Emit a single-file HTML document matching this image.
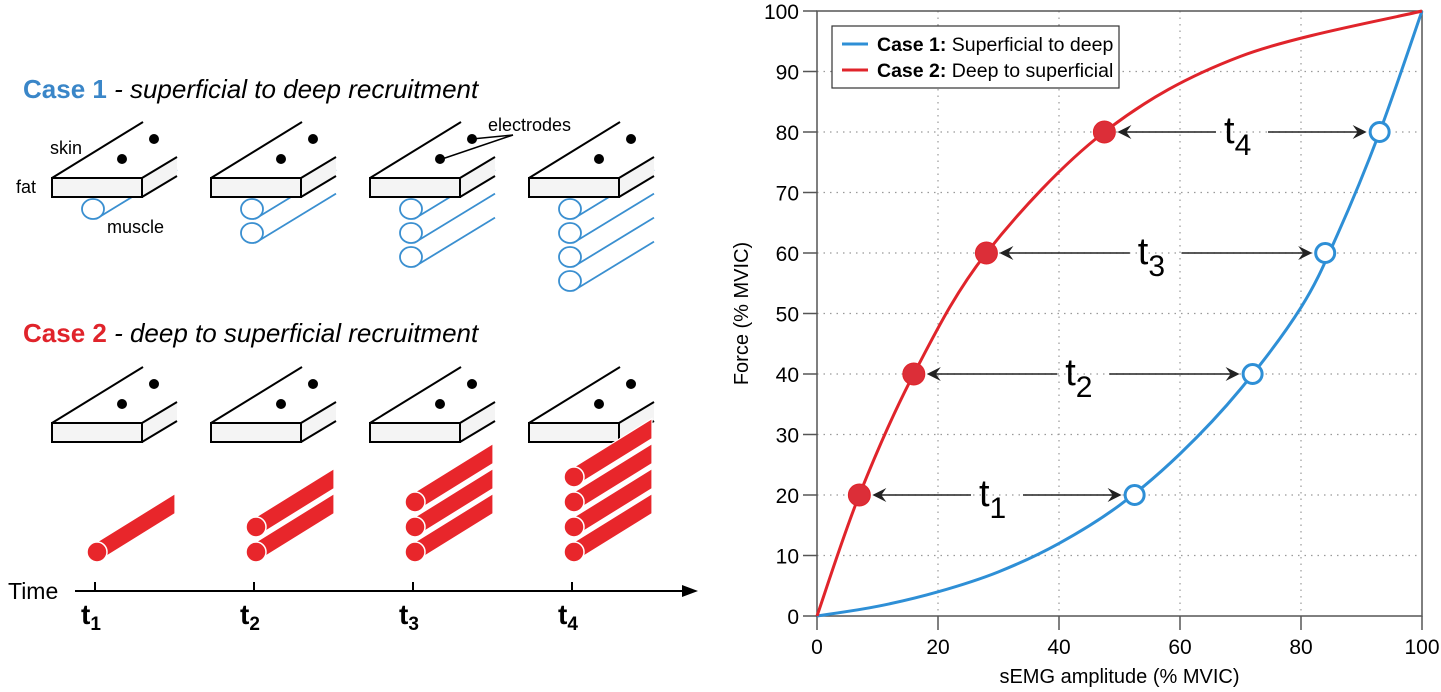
<!DOCTYPE html>
<html><head><meta charset="utf-8"><style>
html,body{margin:0;padding:0;background:#fff;}
svg{display:block;font-family:"Liberation Sans",sans-serif;}
</style></head><body>
<svg id="fig" width="1441" height="692" viewBox="0 0 1441 692" xmlns="http://www.w3.org/2000/svg">
<g id="left">
<text x="23" y="98" font-size="26"><tspan fill="#3a86c8" font-weight="bold">Case 1</tspan><tspan font-style="italic" fill="#000"> - superficial to deep recruitment</tspan></text>
<text x="23" y="342" font-size="26"><tspan fill="#e0242b" font-weight="bold">Case 2</tspan><tspan font-style="italic" fill="#000"> - deep to superficial recruitment</tspan></text>
<text x="50" y="154" font-size="18">skin</text>
<text x="16" y="193" font-size="18">fat</text>
<text x="107" y="233" font-size="18">muscle</text>
</g>
<g id="chart"></g>
</svg>
<script>
const NS='http://www.w3.org/2000/svg';
function mk(parent,tag,attrs){const e=document.createElementNS(NS,tag);for(const k in attrs)e.setAttribute(k,attrs[k]);parent.appendChild(e);return e;}

/* ---------- left diagram ---------- */
const left=document.getElementById('left');
const unitOffsets=[0,159,318,477];
const case1Counts=[1,2,3,4];
const case2Counts=[1,2,3,4];
const BLUE='#3a8fd0', RED='#e8262b';
function slab(ox,oy,name){
  const g=mk(left,'g',{});
  
  
  mk(g,'polygon',{points:`${52+ox},${178+oy} ${143+ox},${122+oy} ${177+ox},${122+oy} ${177+ox},${157+oy} ${142+ox},${178+oy}`,fill:'#fff'});
  mk(g,'polygon',{points:`${142+ox},${178+oy} ${177+ox},${157+oy} ${177+ox},${176+oy} ${142+ox},${197+oy}`,fill:'#f4f4f4'});
  mk(g,'rect',{x:52+ox,y:178+oy,width:90,height:19,fill:'#f4f4f4',stroke:'#000','stroke-width':2});
  mk(g,'line',{x1:52+ox,y1:178+oy,x2:143+ox,y2:122+oy,stroke:'#000','stroke-width':2});
  mk(g,'line',{x1:142+ox,y1:178+oy,x2:177+ox,y2:157+oy,stroke:'#000','stroke-width':2});
  mk(g,'line',{x1:142+ox,y1:197+oy,x2:177+ox,y2:176+oy,stroke:'#000','stroke-width':2});
  mk(g,'circle',{cx:154+ox,cy:139+oy,r:5,fill:'#000'});
  mk(g,'circle',{cx:122+ox,cy:159+oy,r:5,fill:'#000'});
}
unitOffsets.forEach((ox,u)=>{
  for(let i=0;i<case1Counts[u];i++){
    const cx=93+ox, cy=209+24*i;
    const bx=cx+3, by=cy+10, ex=177+ox;
    const l=mk(left,'line',{x1:bx,y1:by,x2:ex,y2:by-0.61*(ex-bx),stroke:BLUE,'stroke-width':1.8});
    
    
    const c=mk(left,'ellipse',{cx:cx,cy:cy,rx:11,ry:10,fill:'#fff',stroke:BLUE,'stroke-width':1.8});
    
    
  }
  slab(ox,0,'skin-fat-layer-case1');
  slab(ox,245,'skin-fat-layer-case2');
  for(let i=case2Counts[u]-1;i>=0;i--){
    const cx=97+ox, cy=552-25*i, r=10, ex=175+ox;
    const dy=-0.62*(ex-cx);
    const p=mk(left,'polygon',{points:`${cx},${cy-r} ${ex},${cy-r+dy} ${ex},${cy+r+dy} ${cx},${cy+r}`,fill:RED,stroke:'#fff','stroke-width':1.2});
    
    
    const c=mk(left,'circle',{cx:cx,cy:cy,r:r,fill:RED,stroke:'#fff','stroke-width':1.5});
    
    
  }
});
mk(left,'line',{x1:513,y1:135,x2:472,y2:139,stroke:'#000','stroke-width':1.5});
mk(left,'line',{x1:513,y1:135,x2:442,y2:159,stroke:'#000','stroke-width':1.5});
const el=mk(left,'text',{x:488,y:131,'font-size':18});
el.textContent='electrodes';


const tl=mk(left,'line',{x1:75,y1:591,x2:685,y2:591,stroke:'#000','stroke-width':2});


mk(left,'polygon',{points:'698,591 682,585 682,597',fill:'#000'});
const tt=mk(left,'text',{x:8,y:599,'font-size':23});
tt.textContent='Time';


const tickNames=['1','2','3','4'];
unitOffsets.forEach((ox,u)=>{
  const x=95+ox;
  mk(left,'line',{x1:x,y1:582,x2:x,y2:591,stroke:'#000','stroke-width':2});
  const t=mk(left,'text',{x:x-14,y:624,'font-size':28,'font-weight':'bold'});
  t.innerHTML='t<tspan font-size="19" dy="6">'+tickNames[u]+'</tspan>';
  
  
});

/* ---------- chart ---------- */
const xTicks=[0,20,40,60,80,100];
const yTicks=[0,10,20,30,40,50,60,70,80,90,100];
const case1X=[0,10,20,30,40,50,60,70,80,86,93,100];
const case1Y=[0,1.6,4,7.3,12,18.3,26.8,37.5,51,63,80,100];
const case2X=[0,7,16,28,47.5,70,100];
const case2Y=[0,20,40,60,80,92.5,100];
const markerY=[20,40,60,80];
const case1MarkX=[52.5,72,84,93];
const case2MarkX=[7,16,28,47.5];
const markerLabels=['1','2','3','4'];

const X0=817,X1=1422,Y0=616,Y1=11;
const sx=v=>X0+(v-0)/(100-0)*(X1-X0);
const sy=v=>Y0-(v-0)/(100-0)*(Y0-Y1);
const ch=document.getElementById('chart');

xTicks.forEach(v=>{ if(v>0&&v<100){const g=mk(ch,'line',{x1:sx(v),y1:Y1,x2:sx(v),y2:Y0,stroke:'#999','stroke-width':1.2,'stroke-dasharray':'1.5,5'});
 }});
yTicks.forEach(v=>{ if(v>0&&v<100){const g=mk(ch,'line',{x1:X0,y1:sy(v),x2:X1,y2:sy(v),stroke:'#999','stroke-width':1.2,'stroke-dasharray':'1.5,5'});
 }});
const fr=mk(ch,'rect',{x:X0,y:Y1,width:X1-X0,height:Y0-Y1,fill:'none',stroke:'#555','stroke-width':1.5});


xTicks.forEach(v=>{
  mk(ch,'line',{x1:sx(v),y1:Y0,x2:sx(v),y2:Y0+14,stroke:'#555','stroke-width':1.5});
  const t=mk(ch,'text',{x:sx(v),y:Y0+38,'font-size':21,'text-anchor':'middle'});
  t.textContent=v;
  
  
});
yTicks.forEach(v=>{
  mk(ch,'line',{x1:X0-14,y1:sy(v),x2:X0,y2:sy(v),stroke:'#555','stroke-width':1.5});
  const t=mk(ch,'text',{x:X0-18,y:sy(v)+8,'font-size':21,'text-anchor':'end'});
  t.textContent=v;
  
  
});
const xt=mk(ch,'text',{x:(X0+X1)/2,y:683,'font-size':20,'text-anchor':'middle'});
xt.textContent='sEMG amplitude (% MVIC)';


const yt=mk(ch,'text',{x:0,y:0,'font-size':20,'text-anchor':'middle',transform:`translate(748,${(Y0+Y1)/2}) rotate(-90)`});
yt.textContent='Force (% MVIC)';



function curvePath(xs,ys){
  const P=xs.map((x,i)=>[sx(x),sy(ys[i])]);
  let d=`M${P[0][0]},${P[0][1]}`;
  for(let i=0;i<P.length-1;i++){
    const p0=P[Math.max(0,i-1)],p1=P[i],p2=P[i+1],p3=P[Math.min(P.length-1,i+2)];
    const c1=[p1[0]+(p2[0]-p0[0])/6,p1[1]+(p2[1]-p0[1])/6];
    const c2=[p2[0]-(p3[0]-p1[0])/6,p2[1]-(p3[1]-p1[1])/6];
    d+=` C${c1[0]},${c1[1]} ${c2[0]},${c2[1]} ${p2[0]},${p2[1]}`;
  }
  return d;
}
const c1=mk(ch,'path',{d:curvePath(case1X,case1Y),fill:'none',stroke:'#2e8fd6','stroke-width':3});


const c2=mk(ch,'path',{d:curvePath(case2X,case2Y),fill:'none',stroke:'#e0242b','stroke-width':3});



markerY.forEach((yv,i)=>{
  const xa=sx(case2MarkX[i])+13, xb=sx(case1MarkX[i])-13, y=sy(yv);
  const mid=(sx(case2MarkX[i])+sx(case1MarkX[i]))/2;
  const g=mk(ch,'g',{});
  
  
  mk(g,'line',{x1:xa+4,y1:y,x2:mid-26,y2:y,stroke:'#222','stroke-width':1.5});
  mk(g,'line',{x1:mid+26,y1:y,x2:xb-4,y2:y,stroke:'#222','stroke-width':1.5});
  mk(g,'path',{d:`M${xa},${y} L${xa+14},${y-7} L${xa+9},${y} L${xa+14},${y+7} Z`,fill:'#222'});
  mk(g,'path',{d:`M${xb},${y} L${xb-14},${y-7} L${xb-9},${y} L${xb-14},${y+7} Z`,fill:'#222'});
  const t=mk(ch,'text',{x:mid-18,y:y+11,'font-size':38});
  t.innerHTML='t<tspan font-size="30" dy="12">'+markerLabels[i]+'</tspan>';
  
  
});
markerY.forEach((yv,i)=>{
  const r=mk(ch,'circle',{cx:sx(case2MarkX[i]),cy:sy(yv),r:11,fill:'#dc2e38',stroke:'#e0242b','stroke-width':1});
  
  
  const b=mk(ch,'circle',{cx:sx(case1MarkX[i]),cy:sy(yv),r:9.5,fill:'#fff',stroke:'#2e8fd6','stroke-width':3});
  
  
});
const lg=mk(ch,'g',{});


mk(lg,'rect',{x:832,y:26,width:287,height:62,fill:'#fff',stroke:'#333','stroke-width':1.2});
mk(lg,'line',{x1:842,y1:44,x2:868,y2:44,stroke:'#2e8fd6','stroke-width':3});
mk(lg,'line',{x1:842,y1:70,x2:868,y2:70,stroke:'#e0242b','stroke-width':3});
const l1=mk(lg,'text',{x:877,y:51,'font-size':19.5});
l1.innerHTML='<tspan font-weight="bold">Case 1:</tspan> Superficial to deep';


const l2=mk(lg,'text',{x:877,y:77,'font-size':19.5});
l2.innerHTML='<tspan font-weight="bold">Case 2:</tspan> Deep to superficial';


</script>
</body></html>
